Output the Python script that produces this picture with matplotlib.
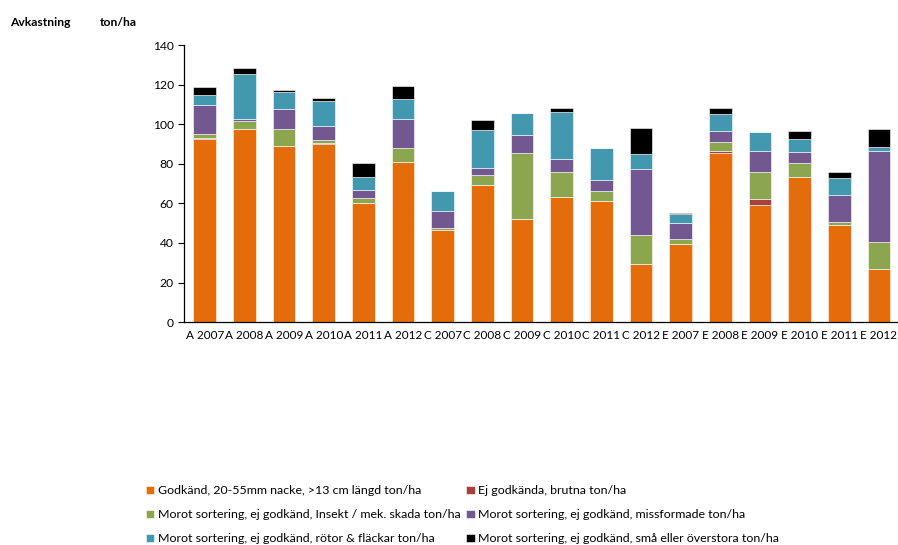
import numpy as np
import matplotlib.pyplot as plt

plt.rcParams['font.family'] = ['Lato', 'DejaVu Sans']

groups = ['A 2007', 'A 2008', 'A 2009', 'A 2010', 'A 2011', 'A 2012',
          'C 2007', 'C 2008', 'C 2009', 'C 2010', 'C 2011', 'C 2012',
          'E 2007', 'E 2008', 'E 2009', 'E 2010', 'E 2011', 'E 2012']

godkand = [92.4, 97.4, 89.0, 90.0, 60.1, 80.8,
           46.6, 69.1, 52.3, 63.4, 61.4, 29.4,
           39.4, 85.5, 59.2, 73.2, 49.1, 27.1]
brutna = [0.9, 0.2, 0.0, 0.5, 0.0, 0.0,
          0.0, 0.0, 0.0, 0.0, 0.0, 0.0,
          0.0, 0.8, 3.2, 0.0, 0.0, 0.0]
insekt = [1.7, 4.2, 8.6, 1.7, 2.8, 7.3,
          1.0, 5.3, 33.0, 12.5, 4.9, 14.8,
          2.6, 4.7, 13.6, 7.1, 1.5, 13.3]
missformade = [14.8, 0.7, 10.1, 7.2, 3.9, 14.4,
               8.4, 3.5, 9.1, 6.4, 5.4, 33.0,
               8.0, 5.4, 10.3, 5.7, 13.5, 45.9]
rotor = [4.9, 23.0, 8.7, 12.3, 6.4, 10.2,
         10.1, 19.0, 11.1, 23.7, 16.1, 7.6,
         4.7, 8.6, 9.6, 6.5, 8.7, 2.0]
sma_stora = [4.4, 3.0, 0.9, 1.4, 7.1, 6.7,
             0.0, 5.2, 0.0, 2.2, 0.0, 13.4,
             0.3, 3.5, 0.0, 4.2, 2.9, 9.3]

series = [godkand, brutna, insekt, missformade, rotor, sma_stora]
labels = ['Godkänd, 20-55mm nacke, >13 cm längd ton/ha',
          'Ej godkända, brutna ton/ha',
          'Morot sortering, ej godkänd, Insekt / mek. skada ton/ha',
          'Morot sortering, ej godkänd, missformade ton/ha',
          'Morot sortering, ej godkänd, rötor & fläckar ton/ha',
          'Morot sortering, ej godkänd, små eller överstora ton/ha']
colors = ['#E46C0A', '#A8403D', '#8BA64E', '#725791', '#4198AF', '#000000']

fig = plt.figure(figsize=(8.98, 5.45), dpi=100)
ax = fig.add_axes([0.205, 0.409, 0.795, 0.508])

x = np.arange(len(groups))
bottom = np.zeros(len(groups))
handles = []
for vals, lab, col in zip(series, labels, colors):
    b = ax.bar(x, vals, 0.57, bottom=bottom, color=col, label=lab,
               edgecolor='white', linewidth=0.4)
    handles.append(b)
    bottom += np.array(vals)

ax.set_xlim(-0.52, 17.48)
ax.set_ylim(0, 140)
ax.set_yticks(range(0, 141, 20))
ax.set_xticks(x)
ax.set_xticklabels(groups)
ax.tick_params(axis='x', length=0, labelsize=8.5, pad=6)
ax.tick_params(axis='y', length=4, labelsize=8.7, direction='out')
for s in ['top', 'right']:
    ax.spines[s].set_visible(False)
ax.spines['left'].set_linewidth(0.9)
ax.spines['bottom'].set_linewidth(0.9)

fig.text(0.011, 0.958, 'Avkastning', fontsize=8.7, fontweight='bold', va='center')
fig.text(0.111, 0.958, 'ton/ha', fontsize=8.7, fontweight='bold', va='center')

order = [0, 2, 4, 1, 3, 5]
fig.legend([handles[i] for i in order], [labels[i] for i in order],
           ncol=2, frameon=False, loc='upper left',
           bbox_to_anchor=(0.1555, 0.121), fontsize=8.9,
           handlelength=0.7, handleheight=0.7, handletextpad=0.3,
           columnspacing=0.4, labelspacing=1.05, borderpad=0)

fig.savefig('out.png', dpi=100)
